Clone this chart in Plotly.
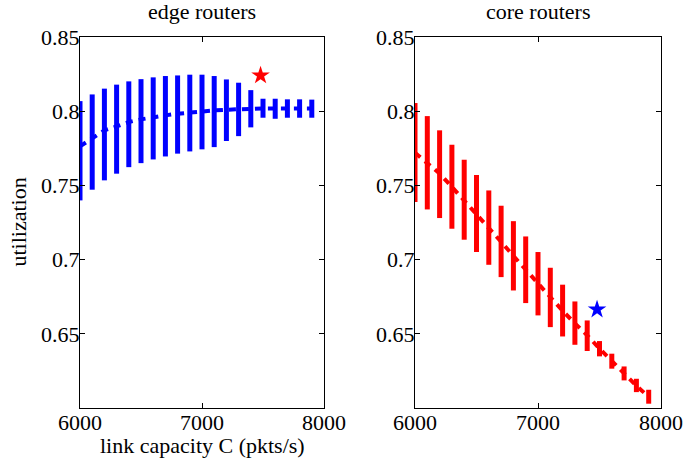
import plotly.graph_objects as go

# ---- data ----
capacity = [6000, 6100, 6200, 6300, 6400, 6500, 6600, 6700, 6800, 6900,
            7000, 7100, 7200, 7300, 7400, 7500, 7600, 7700, 7800, 7900]

edge_mean = [0.7763, 0.7819, 0.7871, 0.7898, 0.7927, 0.7945, 0.7960, 0.7972, 0.7983, 0.7992,
             0.7999, 0.8005, 0.8010, 0.8014, 0.8017, 0.8019, 0.8019, 0.8019, 0.8019, 0.8019]
edge_upper = [0.8068, 0.8113, 0.8152, 0.8179, 0.8201, 0.8216, 0.8228, 0.8237, 0.8241, 0.8246,
              0.8246, 0.8237, 0.8214, 0.8192, 0.8142, 0.8084, 0.8084, 0.8080, 0.8080, 0.8078]
edge_lower = [0.7399, 0.7471, 0.7534, 0.7579, 0.7623, 0.7650, 0.7675, 0.7695, 0.7714, 0.7729,
              0.7743, 0.7758, 0.7799, 0.7832, 0.7891, 0.7956, 0.7949, 0.7956, 0.7956, 0.7956]

core_mean = [0.7720, 0.7650, 0.7580, 0.7490, 0.7400, 0.7310, 0.7215, 0.7120, 0.7025, 0.6930,
             0.6840, 0.6745, 0.6655, 0.6570, 0.6490, 0.6400, 0.6315, 0.6230, 0.6150, 0.6075]
core_upper = [0.8055, 0.7967, 0.7871, 0.7774, 0.7673, 0.7570, 0.7466, 0.7363, 0.7259, 0.7156,
              0.7051, 0.6945, 0.6831, 0.6718, 0.6590, 0.6451, 0.6366, 0.6280, 0.6197, 0.6123]
core_lower = [0.7388, 0.7338, 0.7280, 0.7208, 0.7134, 0.7051, 0.6965, 0.6882, 0.6792, 0.6707,
              0.6624, 0.6545, 0.6482, 0.6426, 0.6384, 0.6348, 0.6265, 0.6186, 0.6107, 0.6029]

edge_star = (7480, 0.8241)
core_star = (7480, 0.6664)

titles = ["edge routers", "core routers"]
x_ticks = [6000, 7000, 8000]
y_ticks = [0.65, 0.7, 0.75, 0.8, 0.85]
y_ticktext = ["0.65", "0.7", "0.75", "0.8", "0.85"]

BLUE = "#0000ff"
RED = "#ff0000"
FONT = "Liberation Serif"

fig = go.Figure()


def add_series(mean, upper, lower, color, xa, ya):
    fig.add_trace(go.Scatter(
        x=capacity, y=mean, mode="lines",
        line=dict(color=color, width=4, dash="7px,6px"),
        error_y=dict(type="data", symmetric=False,
                     array=[u - m for u, m in zip(upper, mean)],
                     arrayminus=[m - l for m, l in zip(mean, lower)],
                     color=color, thickness=5, width=0),
        xaxis=xa, yaxis=ya, showlegend=False, hoverinfo="skip"))


add_series(edge_mean, edge_upper, edge_lower, BLUE, "x", "y")
add_series(core_mean, core_upper, core_lower, RED, "x2", "y2")

fig.add_trace(go.Scatter(x=[edge_star[0]], y=[edge_star[1]], mode="markers",
                         marker=dict(symbol="star", size=14, color=RED, line=dict(width=0)),
                         xaxis="x", yaxis="y", showlegend=False, hoverinfo="skip"))
fig.add_trace(go.Scatter(x=[core_star[0]], y=[core_star[1]], mode="markers",
                         marker=dict(symbol="star", size=14, color=BLUE, line=dict(width=0)),
                         xaxis="x2", yaxis="y2", showlegend=False, hoverinfo="skip"))

W, H = 685, 466
left_dom = [80 / W, 324 / W]
right_dom = [415 / W, 661 / W]
y_dom = [(H - 408) / H, (H - 37) / H]

axis_common = dict(showline=True, linecolor="black", linewidth=1, mirror="ticks",
                   ticks="inside", ticklen=5, tickcolor="black", tickwidth=1,
                   showgrid=False, zeroline=False, automargin=False,
                   tickfont=dict(family=FONT, size=22, color="black"))

fig.update_layout(
    template="none",
    width=W, height=H,
    margin=dict(l=0, r=0, t=0, b=0, pad=0),
    paper_bgcolor="white", plot_bgcolor="white",
    font=dict(family=FONT, color="black", size=22),
    xaxis=dict(domain=left_dom, range=[6000, 8000], tickvals=x_ticks, anchor="y",
               ticklabelstandoff=-5, **axis_common),
    yaxis=dict(domain=y_dom, range=[0.6, 0.85], tickvals=y_ticks, ticktext=y_ticktext,
               anchor="x", ticklabelstandoff=-5, **axis_common),
    xaxis2=dict(domain=right_dom, range=[6000, 8000], tickvals=x_ticks, anchor="y2",
                ticklabelstandoff=-5, **axis_common),
    yaxis2=dict(domain=y_dom, range=[0.6, 0.85], tickvals=y_ticks, ticktext=y_ticktext,
                anchor="x2", ticklabelstandoff=-5, **axis_common),
    annotations=[
        dict(text=titles[0], x=sum(left_dom) / 2, y=y_dom[1], xref="paper", yref="paper",
             xanchor="center", yanchor="bottom", yshift=11, showarrow=False,
             font=dict(family=FONT, size=22)),
        dict(text=titles[1], x=sum(right_dom) / 2, y=y_dom[1], xref="paper", yref="paper",
             xanchor="center", yanchor="bottom", yshift=11, showarrow=False,
             font=dict(family=FONT, size=22)),
        dict(text="link capacity C (pkts/s)", x=sum(left_dom) / 2, y=(H - 445) / H,
             xref="paper", yref="paper", xanchor="center", yanchor="middle",
             showarrow=False, font=dict(family=FONT, size=22)),
        dict(text="utilization", x=18 / W, y=sum(y_dom) / 2, xref="paper", yref="paper",
             xanchor="center", yanchor="middle", textangle=-90, showarrow=False,
             font=dict(family=FONT, size=22)),
    ],
)

fig.write_html("out.html", config={"displayModeBar": False, "staticPlot": True},
               post_script="document.body.style.margin='0';")
